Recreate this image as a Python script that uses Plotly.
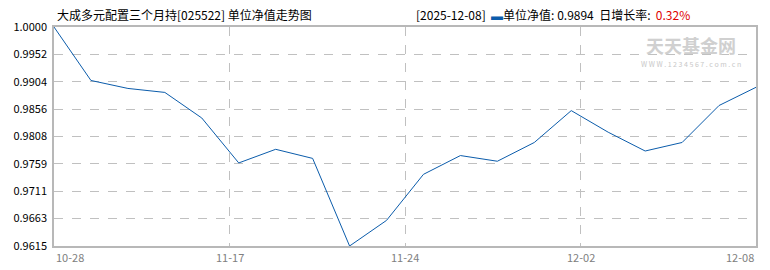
import numpy as np
import plotly.graph_objects as go

# ---- data ----
dates = ["10-28", "10-31", "11-05", "11-10", "11-13", "11-17", "11-18", "11-19", "11-20", "11-21",
         "11-24", "11-25", "11-26", "11-27", "12-02", "12-03", "12-04", "12-05", "12-07", "12-08"]
nav = [1.0000, 0.9906, 0.9892, 0.9885, 0.9840, 0.9761, 0.9785, 0.9769, 0.9615, 0.9660,
       0.9741, 0.9774, 0.9764, 0.9797, 0.9853, 0.9815, 0.9782, 0.9797, 0.9862, 0.9894]
x_tick_labels = ["10-28", "11-17", "11-24", "12-02", "12-08"]
y_min, y_max = 0.9615, 1.0000
title_text = "大成多元配置三个月持[025522] 单位净值走势图"
last_date = "2025-12-08"
last_nav = "0.9894"
last_growth = "0.32%"

n = len(nav)
idx = list(range(n))
xtickvals = np.linspace(0, n - 1, len(x_tick_labels))
ytickvals = np.linspace(y_min, y_max, 9)
yticktext = ["%.4f" % v for v in ytickvals]

W, H = 770, 270
ml, mr, mt, mb = 54, 12, 27, 24
pw = W - ml - mr

font_fam = "Noto Sans CJK SC, Noto Sans, sans-serif"
line_color = "#0b5cab"
grid_color = "#c0c0c0"
frame_color = "#b8b8b8"

fig = go.Figure()
fig.add_trace(go.Scatter(
    x=idx, y=nav, mode="lines",
    line=dict(color=line_color, width=1),
    text=dates, hovertemplate="%{text}: %{y:.4f}<extra></extra>",
))

fig.update_layout(
    width=W, height=H,
    margin=dict(l=ml, r=mr, t=mt, b=mb),
    paper_bgcolor="white", plot_bgcolor="white",
    showlegend=False,
    font=dict(family=font_fam, size=11, color="#000"),
    xaxis=dict(
        range=[0, n - 1], tickvals=xtickvals, showticklabels=False,
        showgrid=True, gridcolor=grid_color, griddash="dash", gridwidth=1,
        showline=True, linecolor=frame_color, linewidth=1.5, mirror=True,
        zeroline=False, fixedrange=True,
    ),
    yaxis=dict(
        range=[y_min, y_max], tickvals=ytickvals, ticktext=yticktext,
        showgrid=True, gridcolor=grid_color, griddash="dash", gridwidth=1,
        showline=True, linecolor=frame_color, linewidth=1.5, mirror=True,
        zeroline=False, ticks="outside", ticklen=3, tickcolor="rgba(0,0,0,0)",
        tickfont=dict(size=11, color="#000"), fixedrange=True,
    ),
)

# x tick labels (first left-aligned, last right-aligned)
for i, (tv, tt) in enumerate(zip(xtickvals, x_tick_labels)):
    anchor = "left" if i == 0 else ("right" if i == len(x_tick_labels) - 1 else "center")
    fig.add_annotation(x=tv, y=0, xref="x", yref="paper", yshift=-11,
                       text=tt, showarrow=False, xanchor=anchor, yanchor="middle",
                       font=dict(size=11, color="#808080"))

def px2paper(px):
    return (px - ml) / pw

# title
fig.add_annotation(x=px2paper(55), y=1, xref="paper", yref="paper", yshift=13,
                   text=title_text, showarrow=False, xanchor="left", yanchor="middle",
                   font=dict(size=12, color="#000"))
# right header
hdr = ("[" + last_date + "]  <span style='color:%s'>▬</span>单位净值: %s  日增长率:  "
       "<span style='color:#e00000'>%s</span>") % (line_color, last_nav, last_growth)
fig.add_annotation(x=px2paper(694), y=1, xref="paper", yref="paper", yshift=13,
                   text=hdr, showarrow=False, xanchor="right", yanchor="middle",
                   font=dict(size=12, color="#000"))
# watermark
fig.add_annotation(x=px2paper(693), y=1, xref="paper", yref="paper", yshift=-18,
                   text="<b>天天基金网</b>", showarrow=False, xanchor="center", yanchor="middle",
                   font=dict(size=18, color="#d0d0d0"))
fig.add_annotation(x=px2paper(693), y=1, xref="paper", yref="paper", yshift=-37,
                   text="W W W . 1 2 3 4 5 6 7 . c o m . c n", showarrow=False,
                   xanchor="center", yanchor="middle",
                   font=dict(size=7, color="#c8c8c8"))

fig.write_html("out.html")
